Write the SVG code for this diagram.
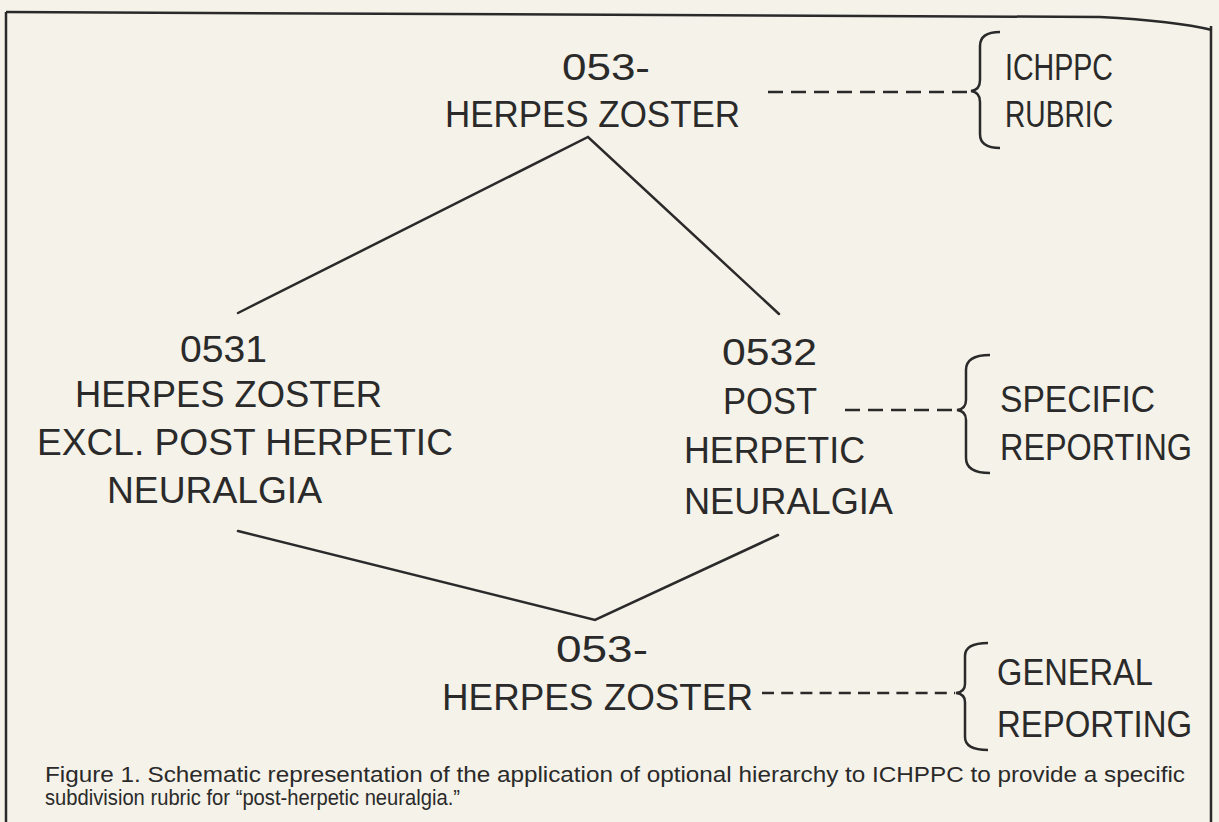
<svg xmlns="http://www.w3.org/2000/svg" width="1219" height="822" viewBox="0 0 1219 822">
<defs>
<style>
.bg{fill:#f5f2e9}
.t{font-family:"Liberation Sans","DejaVu Sans",sans-serif;font-size:37px;fill:#2a2a2a}
.cap{font-family:"Liberation Sans","DejaVu Sans",sans-serif;font-size:22px;fill:#2a2a2a}
.ln{stroke:#2a2a2a;stroke-width:2.5;fill:none;stroke-linecap:round}
.dash{stroke:#2a2a2a;stroke-width:2.5;fill:none;stroke-dasharray:15 8}
.dash2{stroke:#2a2a2a;stroke-width:2.5;fill:none;stroke-dasharray:12 7.2}
.br{stroke:#2a2a2a;stroke-width:2.5;fill:none}
.frame{stroke:#2a2a2a;stroke-width:2.5;fill:none}
</style>
</defs>
<rect class="bg" x="0" y="0" width="1219" height="822"/>
<g id="frame">
<path class="frame" d="M6 12 L1100 17 Q1175 21 1212 30"/>
<path class="frame" d="M6 12 L6 822"/>
<path class="frame" d="M1211 26 L1211 822"/>
</g>
<g id="connectors">
<path class="ln" d="M238 313 L588 137 L779 314"/>
<path class="ln" d="M238 531 L595 620 L778 535"/>
<path class="dash" d="M768 92 L972 92"/>
<path class="dash" d="M845 410 L955 410"/>
<path class="dash2" d="M762 693 L955 693"/>
</g>
<g id="node-top">
<text class="t" x="562" y="80" textLength="88" lengthAdjust="spacingAndGlyphs">053-</text>
<text class="t" x="445" y="127" textLength="295" lengthAdjust="spacingAndGlyphs">HERPES ZOSTER</text>
</g>
<g id="label-ichppc">
<path class="br" d="M1000 32 Q980 32 980 46 L980 80 Q980 90 971 91 Q980 92 980 102 L980 134 Q980 148 1000 148"/>
<text class="t" x="1005" y="80" textLength="108" lengthAdjust="spacingAndGlyphs">ICHPPC</text>
<text class="t" x="1005" y="127" textLength="108" lengthAdjust="spacingAndGlyphs">RUBRIC</text>
</g>
<g id="node-0531">
<text class="t" x="180" y="362" textLength="87" lengthAdjust="spacingAndGlyphs">0531</text>
<text class="t" x="75" y="407" textLength="307" lengthAdjust="spacingAndGlyphs">HERPES ZOSTER</text>
<text class="t" x="37" y="455" textLength="416" lengthAdjust="spacingAndGlyphs">EXCL. POST HERPETIC</text>
<text class="t" x="107" y="503" textLength="215" lengthAdjust="spacingAndGlyphs">NEURALGIA</text>
</g>
<g id="node-0532">
<text class="t" x="722" y="365" textLength="95" lengthAdjust="spacingAndGlyphs">0532</text>
<text class="t" x="723" y="414" textLength="94" lengthAdjust="spacingAndGlyphs">POST</text>
<text class="t" x="684" y="463" textLength="181" lengthAdjust="spacingAndGlyphs">HERPETIC</text>
<text class="t" x="684" y="514" textLength="209" lengthAdjust="spacingAndGlyphs">NEURALGIA</text>
</g>
<g id="label-specific">
<path class="br" d="M990 355 Q966 355 966 370 L966 400 Q966 409 957 410 Q966 411 966 420 L966 458 Q966 473 990 473"/>
<text class="t" x="1000" y="412" textLength="155" lengthAdjust="spacingAndGlyphs">SPECIFIC</text>
<text class="t" x="1000" y="460" textLength="192" lengthAdjust="spacingAndGlyphs">REPORTING</text>
</g>
<g id="node-bottom">
<text class="t" x="556" y="662" textLength="92" lengthAdjust="spacingAndGlyphs">053-</text>
<text class="t" x="442" y="710" textLength="311" lengthAdjust="spacingAndGlyphs">HERPES ZOSTER</text>
</g>
<g id="label-general">
<path class="br" d="M988 643 Q965 643 965 656 L965 684 Q965 692 956 693 Q965 694 965 702 L965 737 Q965 750 988 750"/>
<text class="t" x="997" y="685" textLength="156" lengthAdjust="spacingAndGlyphs">GENERAL</text>
<text class="t" x="997" y="737" textLength="195" lengthAdjust="spacingAndGlyphs">REPORTING</text>
</g>
<g id="caption">
<text class="cap" x="45" y="782" textLength="1140" lengthAdjust="spacingAndGlyphs">Figure 1. Schematic representation of the application of optional hierarchy to ICHPPC to provide a specific</text>
<text class="cap" x="45" y="805" textLength="415" lengthAdjust="spacingAndGlyphs">subdivision rubric for “post-herpetic neuralgia.”</text>
</g>
</svg>
